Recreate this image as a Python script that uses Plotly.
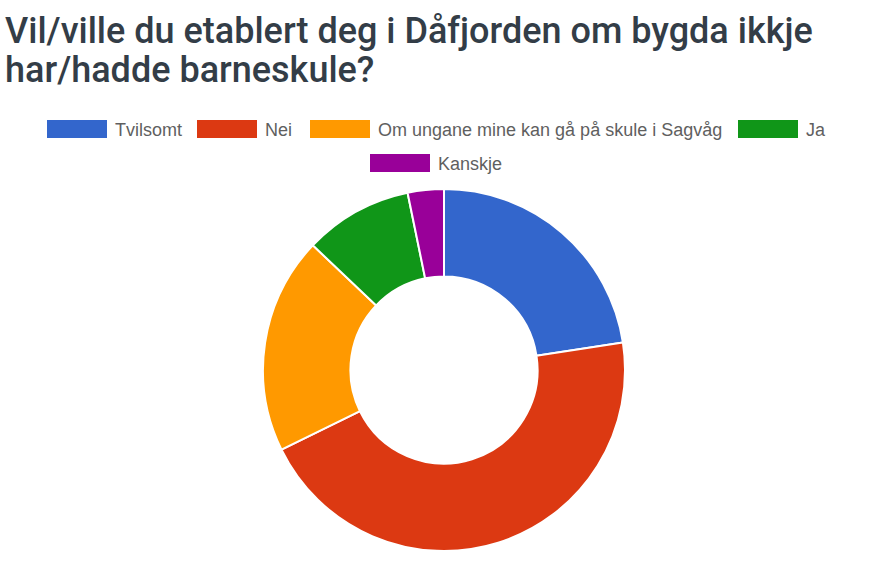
import plotly.graph_objects as go

W, H = 872, 574

labels = ["Tvilsomt", "Nei", "Om ungane mine kan gå på skule i Sagvåg", "Ja", "Kanskje"]
values = [7, 14, 6, 3, 1]
colors = ["#3366cc", "#dc3912", "#ff9900", "#109618", "#990099"]
title_lines = ["Vil/ville du etablert deg i Dåfjorden om bygda ikkje", "har/hadde barneskule?"]

# legend layout (pixel positions): swatch x, row y
legend_pos = [(47, 129), (197, 129), (310, 129), (738, 129), (370, 163)]

def px(x):
    return x / W

def py(y):
    return 1 - y / H

fig = go.Figure()
fig.add_trace(go.Pie(
    labels=labels, values=values, sort=False, direction="clockwise", rotation=0,
    hole=0.517, textinfo="none", showlegend=False,
    marker=dict(colors=colors, line=dict(color="white", width=2)),
    domain=dict(x=[px(263), px(625)], y=[py(551), py(189)]),
))

shapes = []
annotations = []
for (sx, sy), lab, col in zip(legend_pos, labels, colors):
    shapes.append(dict(type="rect", xref="paper", yref="paper",
                       x0=px(sx), x1=px(sx + 60), y0=py(sy + 9), y1=py(sy - 9),
                       fillcolor=col, line=dict(width=0)))
    annotations.append(dict(xref="paper", yref="paper", x=px(sx + 66), y=py(sy + 1),
                            text=lab, showarrow=False, xanchor="left", yanchor="middle",
                            font=dict(family="Liberation Sans, Arial, sans-serif", size=18, color="#5f5f5f")))

for i, (line, cy) in enumerate(zip(title_lines, [31, 70])):
    annotations.append(dict(xref="paper", yref="paper", x=px(3), y=py(cy),
                            text=line, showarrow=False, xanchor="left", yanchor="middle",
                            font=dict(family="Roboto, Arial, sans-serif", size=36, color="#333d47", weight=500)))

fig.update_layout(
    width=W, height=H, margin=dict(l=0, r=0, t=0, b=0),
    paper_bgcolor="white", plot_bgcolor="white",
    shapes=shapes, annotations=annotations,
)
fig.write_html("out.html")
